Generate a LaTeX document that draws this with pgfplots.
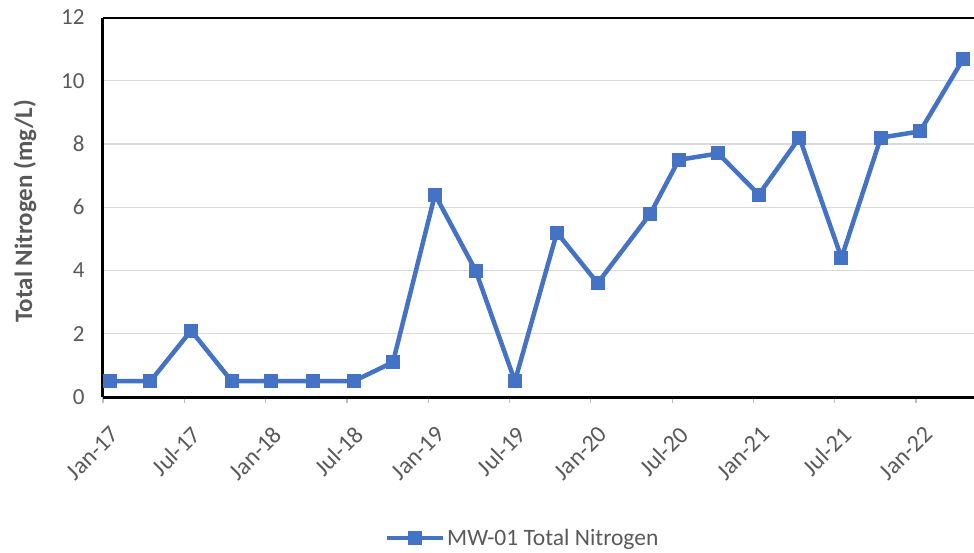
\documentclass[border=0pt]{standalone}
\usepackage{pgfplots}
\pgfplotsset{compat=1.18}
\usepackage{fontspec}
\setmainfont{Carlito}
\definecolor{lineblue}{HTML}{4472C4}
\definecolor{txtgray}{HTML}{595959}
\definecolor{gridgray}{HTML}{D9D9D9}
\begin{document}
\begin{tikzpicture}
\begin{axis}[
  scale only axis,
  width=871pt, height=379.5pt,
  xmin=0, xmax=64.28, ymin=0, ymax=12,
  axis x line*=bottom, axis y line*=left,
  axis line style={black, line width=3pt},
  xtick={0,6,...,60},
  xticklabels={Jan-17,Jul-17,Jan-18,Jul-18,Jan-19,Jul-19,Jan-20,Jul-20,Jan-21,Jul-21,Jan-22},
  ytick={0,2,...,12},
  ymajorgrids,
  grid style={gridgray, line width=1.2pt},
  tick align=outside,
  major tick length=6pt,
  xtick style={draw=gridgray!70!gray, line width=1.2pt},
  ytick style={draw=none},
  /pgf/number format/assume math mode=true,
  yticklabel style={font=\fontsize{23}{27}\selectfont, text=txtgray, xshift=-9pt},
  xticklabel style={font=\fontsize{24}{28}\selectfont, text=txtgray,
    xshift=13pt, yshift=-27pt, rotate=45, anchor=east, inner sep=1pt},
  ylabel={Total Nitrogen (mg/L)},
  every axis y label/.style={at={(axis description cs:-0.0896,0.49)}, rotate=90, anchor=center},
  ylabel style={font=\fontsize{25}{29}\selectfont\bfseries, text=txtgray},
  legend style={at={(axis description cs:0.482,-0.372)}, anchor=center, draw=none,
    font=\fontsize{23.5}{27}\selectfont, text=txtgray, fill=none},
  legend image code/.code={\draw[mark repeat=2,mark phase=2,line width=4pt]
    plot coordinates {(0pt,0pt) (28pt,0pt) (56pt,0pt)};},
]
\addplot[lineblue, line width=4.5pt, mark=square*, mark size=6.5pt,
  mark options={solid, line width=0pt, fill=lineblue, draw=lineblue}] coordinates {
(0.5,0.5) (3.5,0.5) (6.5,2.1) (9.5,0.5) (12.4,0.5) (15.5,0.5) (18.5,0.5)
(21.4,1.1) (24.5,6.4) (27.5,4.0) (30.4,0.5) (33.5,5.2) (36.5,3.6) (40.4,5.8)
(42.5,7.5) (45.4,7.7) (48.4,6.4) (51.4,8.2) (54.5,4.4) (57.4,8.2) (60.3,8.4)
(63.5,10.7)};
\addlegendentry{MW-01 Total Nitrogen}
\draw[black, line width=3pt] (rel axis cs:0,1) -- (rel axis cs:1,1);
\coordinate (sw) at (rel axis cs:0,0);
\end{axis}
\pgfresetboundingbox
\path (sw) ++(-103pt,-155pt) rectangle ++(974pt,552pt);
\end{tikzpicture}
\end{document}
